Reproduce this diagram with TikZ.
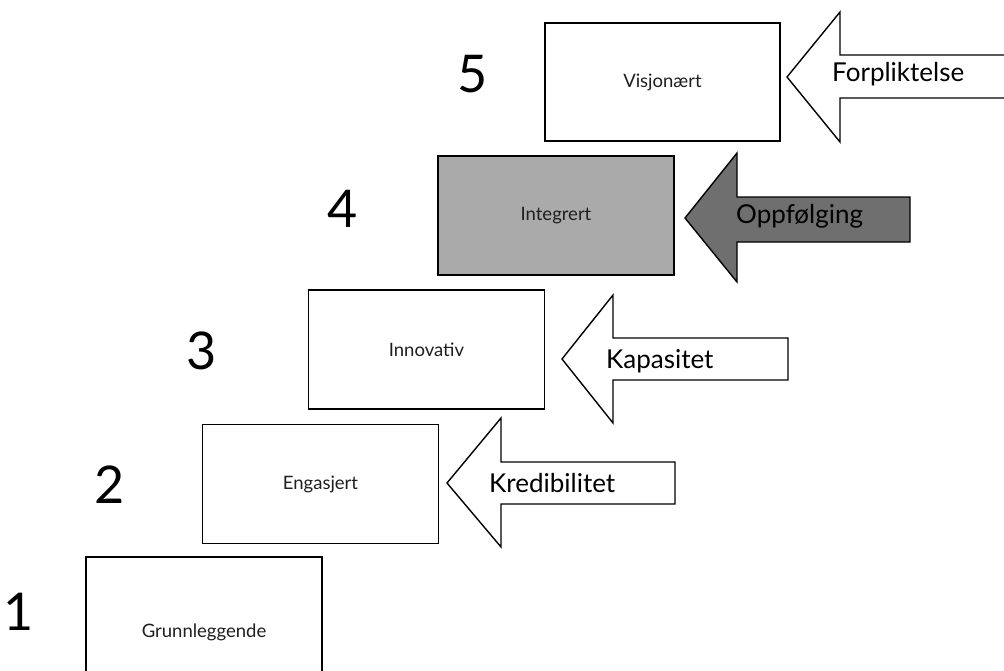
\documentclass[tikz,border=0pt]{standalone}
\usepackage{fontspec}
\setmainfont{Lato}
\definecolor{boxgray}{HTML}{AAAAAA}
\definecolor{arrowgray}{HTML}{6F6F6F}
\begin{document}
\begin{tikzpicture}[x=1pt,y=-1pt,
  level/.style={draw=black,line width=1.4pt,rectangle,inner sep=0pt,
    minimum width=236pt,minimum height=119pt,font=\fontsize{18.5}{21}\selectfont,text=black!88},
  stepnum/.style={anchor=base,inner sep=0pt,font=\fontsize{52}{58}\selectfont},
  blockarrow/.style={draw=black,line width=1.4pt,line join=miter,fill=white},
  arrowtext/.style={anchor=base west,inner sep=0pt,font=\fontsize{26}{30}\selectfont}]
\clip (0,0) rectangle (1004,670);
\fill[white] (0,0) rectangle (1004,670);

% staircase of levels (the lowest one runs past the bottom edge)
\node[level,minimum height=150pt] (grunn) at (204,632) {Grunnleggende};
\node[level] (engasjert) at (320.5,484) {Engasjert};
\node[level] (innovativ) at (426.5,349.5) {Innovativ};
\node[level,fill=boxgray] (integrert) at (556,215.5) {Integrert};
\node[level,minimum width=235pt,minimum height=118pt] (visjon) at (662.5,82) {Visjonært};

% step numbers
\node[stepnum] (n1) at (19,630) {1};
\node[stepnum] (n2) at (110,503) {2};
\node[stepnum] (n3) at (202,369) {3};
\node[stepnum] (n4) at (343,227) {4};
\node[stepnum] (n5) at (473,92) {5};

% block arrows pointing at each level
\draw[blockarrow] (447,483) -- (501,418) -- (501,462) -- (675,462) -- (675,504)
  -- (501,504) -- (501,547) -- cycle;
\draw[blockarrow] (562,359) -- (613,295) -- (613,338) -- (788,338) -- (788,380)
  -- (613,380) -- (613,423) -- cycle;
\draw[blockarrow,fill=arrowgray] (685,218) -- (737,153) -- (737,197) -- (910,197)
  -- (910,242) -- (737,242) -- (737,282) -- cycle;
\draw[blockarrow] (787,77) -- (840,12) -- (840,55) -- (1012,55) -- (1012,98)
  -- (840,98) -- (840,142) -- cycle;

\node[arrowtext] (kred) at (489,492) {Kredibilitet};
\node[arrowtext] (kap) at (606,368) {Kapasitet};
\node[arrowtext] (oppf) at (736,223) {Oppfølging};
\node[arrowtext] (forp) at (832,81) {Forpliktelse};
\end{tikzpicture}
\end{document}
